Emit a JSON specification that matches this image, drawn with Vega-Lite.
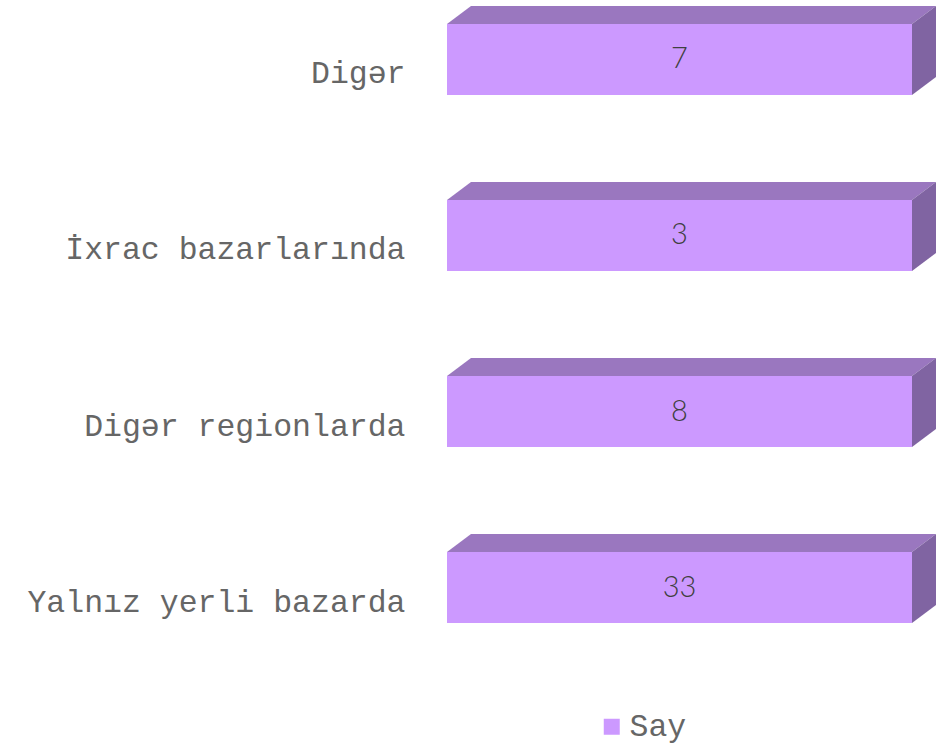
{
  "$schema": "https://vega.github.io/schema/vega-lite/v6.json",
  "autosize": {"type": "none"},
  "padding": {"left": 447, "right": 39, "top": 24, "bottom": 122},
  "width": 465,
  "height": 599,
  "background": "white",
  "config": {"view": {"stroke": null}},
  "data": {
    "values": [
      {"Kateqoriya": "Digər\u00a0", "Seriya": "Say", "Say": 7},
      {"Kateqoriya": "İxrac bazarlarında", "Seriya": "Say", "Say": 3},
      {"Kateqoriya": "Digər regionlarda", "Seriya": "Say", "Say": 8},
      {"Kateqoriya": "Yalnız yerli bazarda", "Seriya": "Say", "Say": 33}
    ]
  },
  "encoding": {
    "y": {
      "field": "Kateqoriya",
      "type": "nominal",
      "sort": null,
      "scale": {"paddingInner": 0.5966, "paddingOuter": 0},
      "axis": {
        "title": null,
        "domain": false,
        "ticks": false,
        "grid": false,
        "labelPadding": 42,
        "labelOffset": 15,
        "labelFont": "Liberation Mono",
        "labelFontSize": 31.5,
        "labelColor": "#666666",
        "labelLimit": 600
      }
    }
  },
  "layer": [
    {
      "mark": {"type": "point", "shape": "M0,0L465,0L489,-18L24,-18Z", "size": 4, "filled": true, "opacity": 1, "strokeWidth": 0, "color": "#9a77bf"},
      "encoding": {
        "x": {"field": "Seriya", "type": "nominal", "bandPosition": 0, "scale": {"paddingInner": 0, "paddingOuter": 0}, "axis": null},
        "y": {"field": "Kateqoriya", "type": "nominal", "sort": null, "bandPosition": 0}
      }
    },
    {
      "mark": {"type": "point", "shape": "M465,0L489,-18L489,53L465,71Z", "size": 4, "filled": true, "opacity": 1, "strokeWidth": 0, "color": "#8064a2"},
      "encoding": {
        "x": {"field": "Seriya", "type": "nominal", "bandPosition": 0, "axis": null},
        "y": {"field": "Kateqoriya", "type": "nominal", "sort": null, "bandPosition": 0}
      }
    },
    {
      "mark": {"type": "rect"},
      "encoding": {
        "x": {"field": "Seriya", "type": "nominal", "axis": null},
        "color": {
          "field": "Seriya",
          "type": "nominal",
          "scale": {"range": ["#cc99ff"]},
          "legend": {
            "title": null,
            "orient": "none",
            "legendX": 149,
            "legendY": 687,
            "padding": 0,
            "symbolType": "square",
            "symbolSize": 256,
            "symbolStrokeWidth": 0,
            "labelFont": "Liberation Mono",
            "labelFontSize": 31.5,
            "labelColor": "#666666",
            "labelOffset": 2
          }
        }
      }
    },
    {
      "mark": {"type": "text", "font": "Lato", "fontSize": 29, "fontWeight": 300, "color": "#404040", "baseline": "middle", "align": "center"},
      "encoding": {
        "x": {"field": "Seriya", "type": "nominal", "axis": null},
        "text": {"field": "Say", "type": "quantitative"}
      }
    }
  ]
}
